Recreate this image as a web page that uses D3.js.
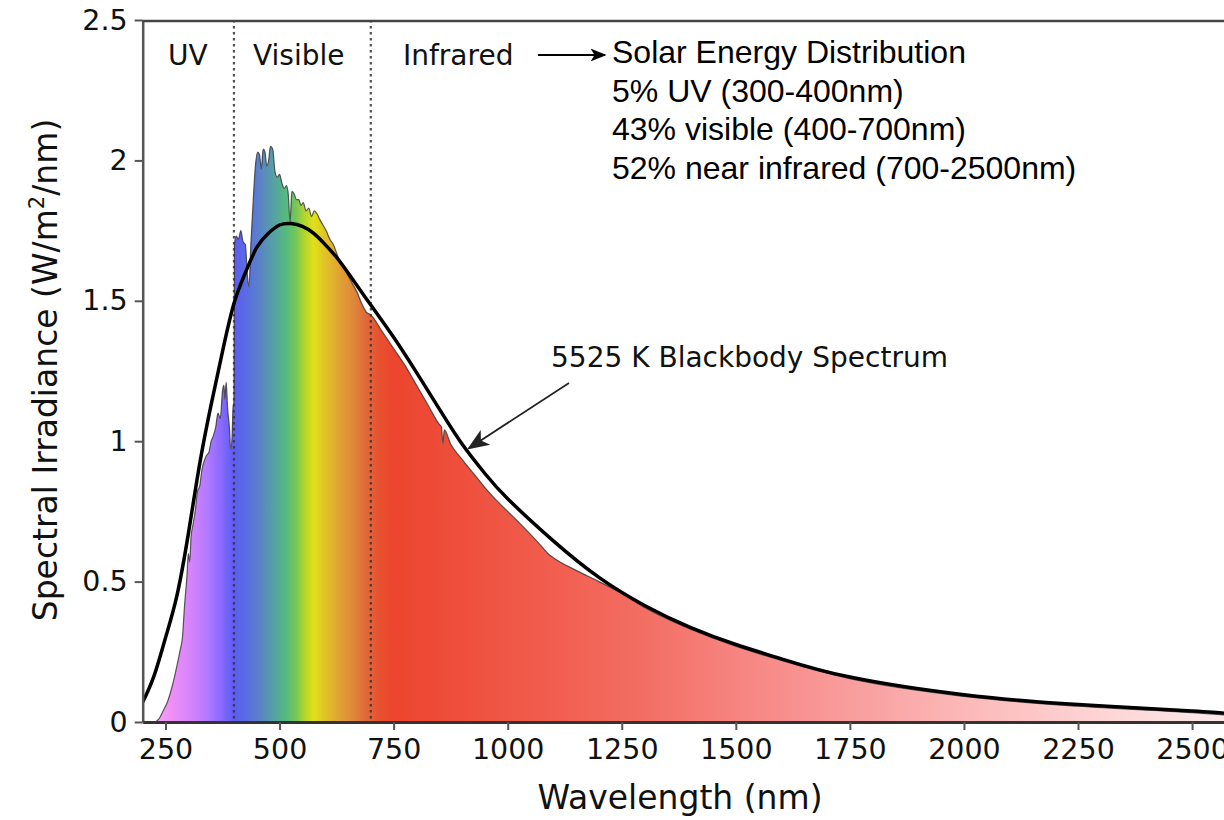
<!DOCTYPE html>
<html>
<head>
<meta charset="utf-8">
<script src="https://cdn.jsdelivr.net/npm/d3@7"></script>
<style>
  body { margin: 0; background: #fff; }
  svg { display: block; }
</style>
</head>
<body>
<div id="chart"></div>
<script>
// ---- data ----
var wavelengthTicks = [250, 500, 750, 1000, 1250, 1500, 1750, 2000, 2250, 2500];
var irradianceTicks = [0, 0.5, 1, 1.5, 2, 2.5];

// 5525 K blackbody curve
var blackbodyWl  = [200, 225, 250, 275, 300, 325, 350, 375, 400, 425, 450, 475, 500, 525, 550, 575, 600, 625, 650, 700,
                    750, 800, 850, 900, 950, 1000, 1100, 1200, 1300, 1400, 1500, 1600, 1750, 2000, 2250, 2500, 2570];
var blackbodyVal = [0.07, 0.165, 0.30, 0.45, 0.67, 0.92, 1.13, 1.32, 1.49, 1.60, 1.69, 1.74, 1.77, 1.775, 1.765, 1.74, 1.70, 1.655, 1.60, 1.485,
                    1.37, 1.245, 1.115, 0.99, 0.885, 0.795, 0.645, 0.515, 0.415, 0.337, 0.276, 0.225, 0.16, 0.097, 0.062, 0.039, 0.031];

// measured solar spectrum
var solarWl  = [228, 235, 245, 255, 265, 275, 282, 287, 292, 297, 300, 303, 306, 310, 315, 320, 325, 330, 335, 340,
                345, 350, 355, 360, 365, 370, 375, 378, 380, 383, 386, 390, 393, 396, 398, 400, 401, 405, 410, 415,
                420, 425, 430, 433, 437, 442, 447, 452, 456, 460, 464, 468, 472, 476, 480, 485, 490, 495, 500, 505,
                510, 515, 519, 523, 527, 532, 537, 542, 547, 552, 558, 564, 570, 576, 582, 588, 595, 602, 610, 618,
                625, 632, 640, 650, 660, 670, 680, 690, 700, 725, 750, 775, 800, 825, 850, 855, 858, 861, 875, 900,
                925, 950, 975, 1000, 1040, 1080, 1088, 1100, 1150, 1200, 1250, 1300, 1400, 1500, 1600, 1750, 2000, 2250, 2500, 2570];
var solarVal = [0, 0.01, 0.04, 0.075, 0.13, 0.20, 0.255, 0.30, 0.42, 0.52, 0.60, 0.57, 0.66, 0.70, 0.75, 0.82, 0.84, 0.90, 0.93, 0.95,
                0.96, 1.00, 1.02, 1.05, 1.10, 1.08, 1.18, 1.20, 1.15, 1.21, 1.12, 1.05, 0.97, 1.02, 1.12, 1.14, 1.70, 1.73, 1.72, 1.75,
                1.71, 1.70, 1.58, 1.55, 1.70, 1.85, 1.98, 2.03, 2.02, 1.97, 2.04, 2.03, 1.98, 2.00, 2.05, 2.04, 1.96, 1.94, 1.95, 1.92,
                1.90, 1.91, 1.88, 1.78, 1.89, 1.88, 1.86, 1.86, 1.84, 1.85, 1.82, 1.83, 1.80, 1.82, 1.81, 1.79, 1.77, 1.75, 1.72, 1.70,
                1.67, 1.64, 1.62, 1.59, 1.56, 1.53, 1.49, 1.46, 1.45, 1.39, 1.33, 1.27, 1.20, 1.13, 1.06, 1.05, 0.99, 1.04, 0.99, 0.935,
                0.885, 0.835, 0.79, 0.75, 0.685, 0.615, 0.60, 0.585, 0.54, 0.50, 0.458, 0.408, 0.331, 0.27, 0.219, 0.154, 0.091, 0.056, 0.033, 0.025];

var regionBounds = [400, 700];
var regionLabels = ["UV", "Visible", "Infrared"];
var distributionLines = ["Solar Energy Distribution", "5% UV (300-400nm)", "43% visible (400-700nm)", "52% near infrared (700-2500nm)"];
var blackbodyLabel = "5525 K Blackbody Spectrum";

// rainbow fill, by wavelength
var gradWl    = [230, 260, 300, 340, 370, 400, 430, 460, 490, 515, 535, 555, 575, 600, 630, 660, 690, 720, 750, 900,
                 1100, 1300, 1500, 1750, 2000, 2250, 2500, 2570];
var gradColor = ["#f7a3f7", "#f090f6", "#d985fb", "#b47aff", "#8c6bff", "#5c5cf5", "#5a6ee0", "#5a86c4", "#55a4a0", "#55bb7c",
                 "#74c658", "#b5d52e", "#e0e018", "#e0c228", "#e0a434", "#df8a38", "#e0683a", "#e8502f", "#ec452e", "#ee4f3c",
                 "#f15e4f", "#f36e63", "#f68480", "#f99d9d", "#fcb8b8", "#fed0d0", "#fee4e4", "#ffe8e8"];

// ---- layout ----
var W = 1224, H = 820;
var plotLeft = 142.7, plotRight = 1224, plotTop = 20, plotBottom = 722;

var x = d3.scaleLinear().domain([200, 2570]).range([plotLeft, plotRight]);
var y = d3.scaleLinear().domain([0, 2.5]).range([plotBottom, plotTop]);

var svg = d3.select("#chart").append("svg")
    .attr("width", W)
    .attr("height", H)
    .style("font-family", "'DejaVu Sans', sans-serif");

var defs = svg.append("defs");

var grad = defs.append("linearGradient")
    .attr("id", "rainbow")
    .attr("gradientUnits", "userSpaceOnUse")
    .attr("x1", x(200)).attr("x2", x(2570))
    .attr("y1", 0).attr("y2", 0);
grad.selectAll("stop")
    .data(gradWl)
    .enter().append("stop")
    .attr("offset", function(d) { return (d - 200) / (2570 - 200); })
    .attr("stop-color", function(d, i) { return gradColor[i]; });

defs.append("clipPath").attr("id", "plot")
  .append("rect")
    .attr("x", plotLeft).attr("y", 0)
    .attr("width", plotRight - plotLeft).attr("height", plotBottom);

function arrowMarker(id, color, size) {
  defs.append("marker")
      .attr("id", id)
      .attr("viewBox", "0 0 10 10")
      .attr("refX", 9).attr("refY", 5)
      .attr("markerWidth", size).attr("markerHeight", size)
      .attr("markerUnits", "userSpaceOnUse")
      .attr("orient", "auto")
    .append("path")
      .attr("d", "M0,1 L10,5 L0,9 L2.5,5 Z")
      .attr("fill", color);
}
arrowMarker("headBlack", "#000", 16);
arrowMarker("headDark", "#222", 22);

var solar = solarWl.map(function(w, i) { return [w, solarVal[i]]; });
var blackbody = blackbodyWl.map(function(w, i) { return [w, blackbodyVal[i]]; });

var plot = svg.append("g").attr("clip-path", "url(#plot)");

// spectrum fill
plot.append("path")
    .datum(solar)
    .attr("fill", "url(#rainbow)")
    .attr("d", d3.area()
      .x(function(d) { return x(d[0]); })
      .y0(y(0))
      .y1(function(d) { return y(d[1]); })
      .curve(d3.curveMonotoneX));

plot.append("path")
    .datum(solar)
    .attr("fill", "none")
    .attr("stroke", "#333")
    .attr("stroke-opacity", 0.8)
    .attr("stroke-width", 1.2)
    .attr("d", d3.line()
      .x(function(d) { return x(d[0]); })
      .y(function(d) { return y(d[1]); })
      .curve(d3.curveMonotoneX));

// region separators
plot.selectAll(".sep")
    .data(regionBounds)
    .enter().append("line")
    .attr("class", "sep")
    .attr("x1", function(d) { return x(d); })
    .attr("x2", function(d) { return x(d); })
    .attr("y1", y(2.5))
    .attr("y2", y(0))
    .attr("stroke", "#333")
    .attr("stroke-opacity", 0.85)
    .attr("stroke-width", 2.2)
    .attr("stroke-dasharray", "2.5,3.5");

// blackbody
plot.append("path")
    .datum(blackbody)
    .attr("fill", "none")
    .attr("stroke", "#000")
    .attr("stroke-width", 3.5)
    .attr("d", d3.line()
      .x(function(d) { return x(d[0]); })
      .y(function(d) { return y(d[1]); })
      .curve(d3.curveNatural));

// axes
var yAxis = svg.append("g")
    .attr("transform", "translate(" + plotLeft + ",0)")
    .call(d3.axisLeft(y).tickValues(irradianceTicks).tickSize(8).tickSizeOuter(0).tickPadding(7).tickFormat(d3.format("")));

var xAxis = svg.append("g")
    .attr("transform", "translate(0," + plotBottom + ")")
    .call(d3.axisBottom(x).tickValues(wavelengthTicks).tickSize(8).tickSizeOuter(0).tickPadding(9).tickFormat(d3.format("d")));

[yAxis, xAxis].forEach(function(g) {
  g.selectAll("text")
      .attr("font-family", "'DejaVu Sans', sans-serif")
      .attr("font-size", 28.5)
      .attr("fill", "#111");
  g.selectAll(".tick line").attr("stroke", "#555").attr("stroke-width", 2);
});
yAxis.select(".domain").attr("stroke", "#555").attr("stroke-width", 2.5);
xAxis.select(".domain").attr("stroke", "#333").attr("stroke-width", 3);

// top frame line
svg.append("line")
    .attr("x1", plotLeft).attr("x2", plotRight)
    .attr("y1", y(2.5) + 1).attr("y2", y(2.5) + 1)
    .attr("stroke", "#444").attr("stroke-width", 2.5);

// axis titles
svg.append("text")
    .attr("x", 680)
    .attr("y", 809)
    .attr("text-anchor", "middle")
    .attr("font-size", 33)
    .attr("fill", "#111")
    .text("Wavelength (nm)");

var yt = svg.append("text")
    .attr("transform", "translate(57,370) rotate(-90)")
    .attr("text-anchor", "middle")
    .attr("font-size", 33)
    .attr("fill", "#111");
yt.append("tspan").text("Spectral Irradiance (W/m");
yt.append("tspan").attr("font-size", 21).attr("dy", -13).text("2");
yt.append("tspan").attr("dy", 13).text("/nm)");

// region labels
var regionX = [168, 253, 403];
svg.selectAll(".region")
    .data(regionLabels)
    .enter().append("text")
    .attr("class", "region")
    .attr("x", function(d, i) { return regionX[i]; })
    .attr("y", 65)
    .attr("font-size", 28)
    .attr("fill", "#111")
    .text(function(d) { return d; });

// infrared arrow
svg.append("line")
    .attr("x1", 538).attr("y1", 55)
    .attr("x2", 605).attr("y2", 55)
    .attr("stroke", "#000").attr("stroke-width", 2)
    .attr("marker-end", "url(#headBlack)");

// energy distribution note
svg.selectAll(".dist")
    .data(distributionLines)
    .enter().append("text")
    .attr("class", "dist")
    .attr("x", 612)
    .attr("y", function(d, i) { return 63 + i * 38.7; })
    .attr("font-family", "'Liberation Sans', Arial, sans-serif")
    .attr("font-size", 32)
    .attr("fill", "#000")
    .text(function(d) { return d; });

// blackbody label + pointer
svg.append("text")
    .attr("x", 551)
    .attr("y", 367)
    .attr("font-size", 28)
    .attr("fill", "#111")
    .text(blackbodyLabel);

svg.append("line")
    .attr("x1", 569).attr("y1", 383)
    .attr("x2", x(915)).attr("y2", y(0.975))
    .attr("stroke", "#222").attr("stroke-width", 1.8)
    .attr("marker-end", "url(#headDark)");
</script>
</body>
</html>
